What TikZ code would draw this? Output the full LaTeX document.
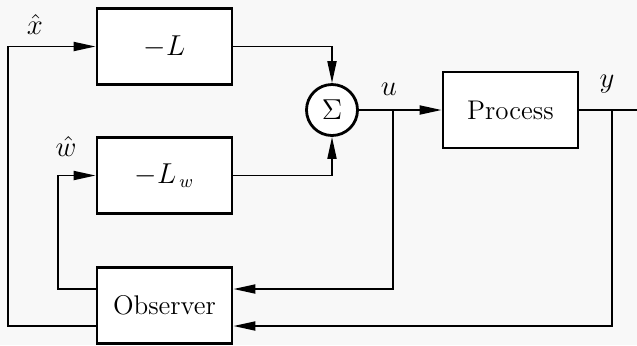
\documentclass[tikz,border=0pt]{standalone}
\usepackage{amsmath}
\usetikzlibrary{arrows.meta}
\definecolor{bgcol}{HTML}{F8F8F8}

\begin{document}
\begin{tikzpicture}[x=0.5pt,y=-0.5pt,
    blk/.style={draw,fill=white,line width=1.4pt,minimum width=67.5pt,minimum height=38pt,inner sep=0pt,font=\fontsize{13.5}{16}\selectfont},
    sumnode/.style={draw,circle,fill=white,line width=1.4pt,minimum size=25.5pt,inner sep=0pt,font=\fontsize{15}{18}\selectfont},
    sig/.style={line width=0.95pt,-{Triangle[length=11pt,width=4.5pt]}},
    wire/.style={line width=0.95pt},
    lbl/.style={inner sep=0.5pt,font=\fontsize{13.5}{16}\selectfont}]
                % Background
                \fill[bgcol] (0,0) rectangle (637,345);
                \useasboundingbox (0,0) rectangle (637,345);

                % Gains
                \node[blk] (negL) at (164.5,46.5) {$-L$};
                \node[blk] (negLw) at (164.5,175.5) {$-L_{\,w}$};

                % Observer
                \node[blk] (obs) at (164.5,305.5) {Observer};

                % Sum and process
                \node[sumnode] (sum) at (332,110) {$\Sigma$};
                \node[blk] (proc) at (510.5,110) {Process};
                \coordinate (uj) at (393,110);
                \coordinate (yj) at (612,110);
                \coordinate (yout) at (637,110);

                % Forward path
                \draw[sig] (negL.east) -| (sum.north);
                \draw[sig] (negLw.east) -| (sum.south);
                \draw[sig] (sum.east) -- (proc.west);
                \draw[wire] (proc.east) -- (yout);

                % Feedback to observer
                \draw[sig] (uj) |- ([yshift=8.25pt]obs.east);
                \draw[sig] (yj) |- ([yshift=-10.25pt]obs.east);

                % Estimates
                \draw[sig] ([yshift=-10.25pt]obs.west) -| (8,46.5) -- (negL.west);
                \draw[sig] ([yshift=8.25pt]obs.west) -- (58,289) |- (negLw.west);

                % Labels
                \node[lbl] (xhat) at (35,24) {$\hat{x}$};
                \node[lbl] (what) at (66,146) {$\hat{w}$};
                \node[lbl] (ulab) at (389,89) {$u$};
                \node[lbl] (ylab) at (607,84) {$y$};
            \end{tikzpicture}
\end{document}
